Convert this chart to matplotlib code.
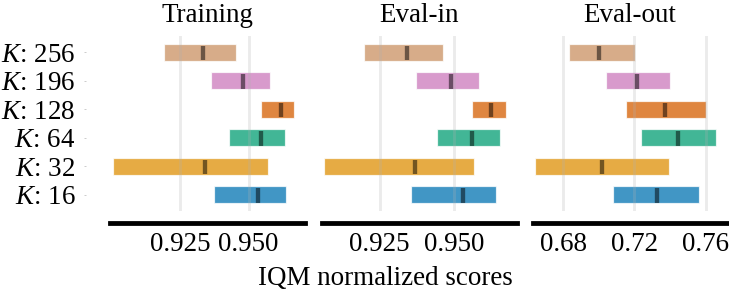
import matplotlib
matplotlib.use("Agg")
import matplotlib.pyplot as plt
import numpy as np

plt.rcParams['font.family'] = ['Liberation Serif', 'DejaVu Serif']
plt.rcParams['mathtext.fontset'] = 'custom'
plt.rcParams['mathtext.rm'] = 'Liberation Serif'
plt.rcParams['mathtext.it'] = 'Liberation Serif:italic'

# ---- data (bottom to top) ----
algorithms = ['$K$: 16', '$K$: 32', '$K$: 64', '$K$: 128', '$K$: 196', '$K$: 256']
colors = ['#0173b2', '#de8f05', '#029e73', '#d55e00', '#cc78bc', '#ca9161']

panels = ['Training', 'Eval-in', 'Eval-out']

train_low = [0.9373, 0.9003, 0.9428, 0.9545, 0.9362, 0.9192]
train_high = [0.9636, 0.9569, 0.9633, 0.9666, 0.9578, 0.9454]
train_med = [0.9533, 0.9341, 0.9545, 0.9618, 0.9478, 0.9334]

evalin_low = [0.9355, 0.9064, 0.9441, 0.9558, 0.9373, 0.9198]
evalin_high = [0.9640, 0.9567, 0.9651, 0.9671, 0.9581, 0.9462]
evalin_med = [0.9530, 0.9367, 0.9560, 0.9623, 0.9488, 0.9343]

evalout_low = [0.7081, 0.6641, 0.7238, 0.7152, 0.7038, 0.6834]
evalout_high = [0.7561, 0.7392, 0.7660, 0.7603, 0.7401, 0.7203]
evalout_med = [0.7326, 0.7019, 0.7446, 0.7370, 0.7212, 0.6999]

train_ticks = [0.925, 0.950]
train_ticklabels = ['0.925', '0.950']
evalin_ticks = [0.925, 0.950]
evalin_ticklabels = ['0.925', '0.950']
evalout_ticks = [0.68, 0.72, 0.76]
evalout_ticklabels = ['0.68', '0.72', '0.76']

xlabel = 'IQM normalized scores'

# ---- layout ----
DPI = 172.8
fig = plt.figure(figsize=(729 / DPI, 295 / DPI), dpi=DPI)
FS = 11.25

ax_lefts = [110 / 729, 321.7 / 729, 532.7 / 729]
ax_w = 195 / 729
ax_b = 1 - 211 / 295
ax_h = (211 - 36) / 295
xlims = [(0.8993, 0.9706), (0.9057, 0.9708), (0.6628, 0.7724)]

data = [
    (train_low, train_high, train_med, train_ticks, train_ticklabels),
    (evalin_low, evalin_high, evalin_med, evalin_ticks, evalin_ticklabels),
    (evalout_low, evalout_high, evalout_med, evalout_ticks, evalout_ticklabels),
]

h = 0.6
for p, (title, (lo, hi, med, ticks, tlabels)) in enumerate(zip(panels, data)):
    ax = fig.add_axes([ax_lefts[p], ax_b, ax_w, ax_h])
    for i in range(len(algorithms)):
        ax.barh(y=i, width=hi[i] - lo[i], height=h, left=lo[i],
                color=colors[i], alpha=0.75, edgecolor='white', linewidth=0.5)
        ax.vlines(x=med[i], ymin=i - 7.5 * h / 16, ymax=i + 6 * h / 16,
                  color='k', alpha=0.5, linewidth=1.8)
    ax.spines['right'].set_visible(False)
    ax.spines['top'].set_visible(False)
    ax.spines['left'].set_visible(False)
    ax.spines['bottom'].set_linewidth(2)
    ax.spines['left'].set_position(('outward', 10))
    ax.spines['bottom'].set_position(('outward', 5))
    ax.tick_params(axis='x', length=0.1, width=0.1, labelsize=FS)
    if p == 0:
        ax.tick_params(axis='y', length=1.0, width=0.4, color='#cccccc', labelsize=FS)
    else:
        ax.tick_params(axis='y', length=0, labelsize=FS)
    ax.set_xlim(*xlims[p])
    ax.set_ylim(-0.58, len(algorithms) - 1 + 0.58)
    ax.set_xticks(ticks)
    ax.set_xticklabels(tlabels)
    ax.set_yticks(list(range(len(algorithms))))
    if p == 0:
        ax.set_yticklabels(algorithms)
    else:
        ax.set_yticklabels([])
    ax.set_title(title, fontsize=FS)
    ax.grid(True, axis='x', alpha=0.25, linewidth=1.2, color='#b0b0b0')
    ax.set_facecolor('white')

fig.text(385 / 729, 1 - 285 / 295, xlabel, ha='center', va='baseline', fontsize=FS)

fig.savefig('out.png', dpi=DPI, facecolor='white')
